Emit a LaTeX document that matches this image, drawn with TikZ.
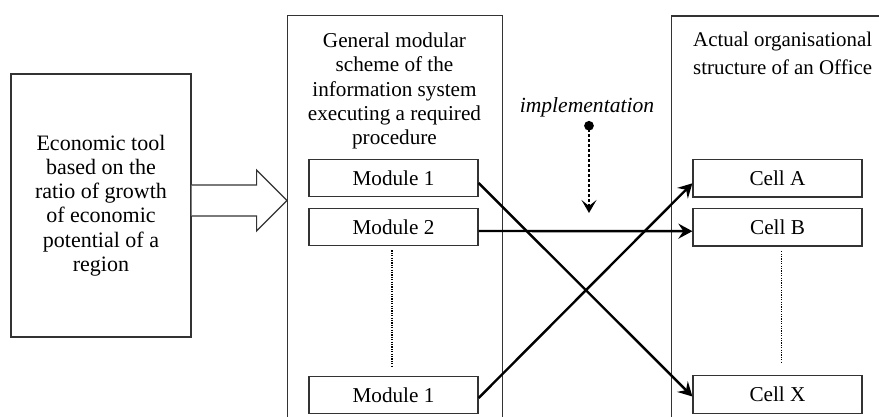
\documentclass[tikz,border=0pt]{standalone}
\usepackage{fontspec}
\setmainfont{Liberation Serif}
\usetikzlibrary{arrows.meta,calc}
\begin{document}
\begin{tikzpicture}[x=1pt,y=-1pt,
  every node/.style={font=\fontsize{21.2}{24.3}\selectfont, inner sep=0pt},
  frame/.style={draw=black!80, line width=1.2pt},
  box/.style={frame, minimum width=169pt, minimum height=37.5pt},
  link/.style={line width=2.4pt, -{Stealth[length=14pt,width=15pt,inset=5pt]}},
  vdots/.style={line width=1.2pt, dash pattern=on 1.2pt off 1.2pt},
  implarrow/.style={line width=2.8pt, dash pattern=on 2.8pt off 2.2pt,
    {Circle[length=9.5pt,sep=-4pt]}-{Stealth[length=13pt,width=15pt,inset=6pt]}}]
\useasboundingbox (0,0) rectangle (879,417);
\clip (0,0) rectangle (879,417);

% frames
\node[frame, minimum width=215pt, minimum height=430pt, anchor=north west] (mid) at (287,15) {};
\node[frame, minimum width=260pt, minimum height=430pt, anchor=north west] (right) at (671,15.5) {};
\node[frame, minimum width=180pt, minimum height=263pt, align=center,
  font=\fontsize{22}{24.3}\selectfont] (tool) at (101,205.5)
  {Economic tool\\based on the\\ratio of growth\\of economic\\potential of a\\region};

% titles
\node[anchor=north, align=center] (midtitle) at (394.5,32.5)
  {General modular\\scheme of the\\information system\\executing a required\\procedure};
\node[anchor=north west, align=left, font=\fontsize{20.9}{28.3}\selectfont] (righttitle) at (693,31.5)
  {Actual organisational\\structure of an Office};
\node[anchor=base, font=\fontsize{21.6}{24}\selectfont\itshape] (impl) at (587,113) {implementation};

% hollow arrow
\draw[frame, fill=white] ($(tool.east)+(0,-20.5)$) -- ($(tool.east)+(65,-20.5)$)
  -- ($(tool.east)+(65,-35.5)$) -- ($(mid.west|-tool.east)+(0,-5)$)
  -- ($(tool.east)+(65,25.5)$) -- ($(tool.east)+(65,10.5)$) -- ($(tool.east)+(0,10.5)$);

% modules and cells
\node[box] (m1) at (393.5,178) {Module 1};
\node[box] (m2) at (393.5,227) {Module 2};
\node[box] (mn) at (393.5,395) {Module 1};
\node[box] (ca) at (777.5,178.3) {Cell A};
\node[box] (cb) at (777.5,227.2) {Cell B};
\node[box] (cx) at (777.5,394.5) {Cell X};

\draw[vdots] ([xshift=-1.5pt,yshift=-4pt]m2.south) -- ([xshift=-1.5pt,yshift=10pt]mn.north);
\draw[vdots] ([xshift=4pt,yshift=-4.7pt]cb.south) -- ([xshift=4pt,yshift=11.4pt]cx.north);

% implementation arrow
\coordinate (dotpt) at (589,125);
\coordinate (arrtip) at (589,213);
\draw[implarrow] (dotpt) -- (arrtip);

% links
\draw[link] ([yshift=-5pt]m1.east) -- ([yshift=-2pt]cx.west);
\draw[link] ([yshift=-4pt]m2.east) -- ([yshift=-4pt]cb.west);
\draw[link] ([yshift=-3pt]mn.east) -- ([yshift=-5pt]ca.west);
\end{tikzpicture}
\end{document}
